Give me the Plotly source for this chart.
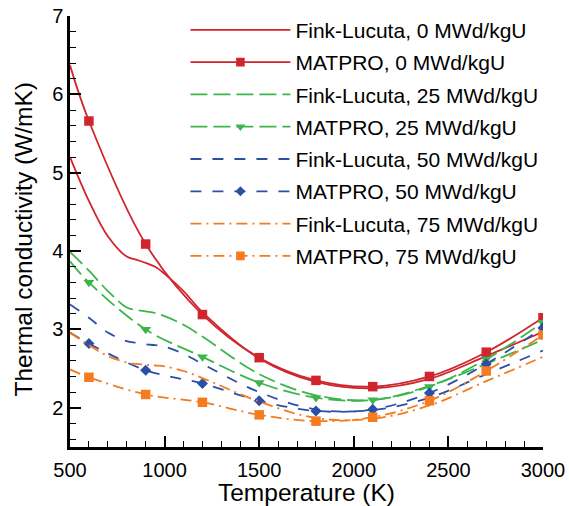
import plotly.graph_objects as go

# Temperatures (K)
T_fink = [500, 600, 700, 800, 850, 900, 950, 1000, 1100, 1200, 1500, 1800, 2100, 2400, 2700, 3000]
T_mat = [500, 600, 900, 1200, 1500, 1800, 2100, 2400, 2700, 3000]

# Fink-Lucuta thermal conductivity (W/mK)
fink_0 = [5.20, 4.64, 4.19, 3.93, 3.89, 3.85, 3.80, 3.71, 3.49, 3.22, 2.63, 2.33, 2.25, 2.37, 2.66, 2.97]
fink_25 = [3.99, 3.75, 3.49, 3.28, 3.25, 3.23, 3.21, 3.17, 3.06, 2.91, 2.43, 2.16, 2.10, 2.28, 2.56, 2.87]
fink_50 = [3.32, 3.15, 2.96, 2.85, 2.83, 2.81, 2.80, 2.78, 2.69, 2.56, 2.20, 1.98, 1.97, 2.13, 2.43, 2.73]
fink_75 = [2.96, 2.80, 2.66, 2.58, 2.56, 2.55, 2.54, 2.53, 2.47, 2.38, 2.08, 1.87, 1.86, 2.03, 2.34, 2.65]

# MATPRO thermal conductivity (W/mK)
mat_0 = [6.37, 5.66, 4.09, 3.19, 2.64, 2.35, 2.27, 2.40, 2.71, 3.15]
mat_25 = [3.87, 3.60, 3.00, 2.65, 2.32, 2.13, 2.10, 2.27, 2.62, 3.09]
mat_50 = [2.96, 2.82, 2.48, 2.31, 2.09, 1.96, 1.98, 2.19, 2.56, 3.02]
mat_75 = [2.49, 2.39, 2.17, 2.07, 1.91, 1.83, 1.88, 2.09, 2.47, 2.93]

RED = "#d0252d"
GREEN = "#3db54a"
BLUE = "#2b4fa6"
ORANGE = "#f47b20"

fig = go.Figure()

def fink(y, name, color, dash):
    fig.add_trace(go.Scatter(
        x=T_fink, y=y, name=name, mode="lines",
        line=dict(color=color, width=1.8, dash=dash, shape="spline", smoothing=1.0),
        legendgroup=name,
    ))

def mat(y, name, color, dash, symbol, size):
    sizes = [0] + [size] * (len(T_mat) - 1)
    fig.add_trace(go.Scatter(
        x=T_mat, y=y, name=name, mode="lines+markers",
        line=dict(color=color, width=1.8, dash=dash, shape="spline", smoothing=1.0),
        marker=dict(symbol=symbol, size=sizes, color=color, opacity=1, line=dict(width=0)),
        legendgroup=name,
    ))

fink(fink_0, "Fink-Lucuta, 0 MWd/kgU", RED, "solid")
mat(mat_0, "MATPRO, 0 MWd/kgU", RED, "solid", "square", 9.5)
fink(fink_25, "Fink-Lucuta, 25 MWd/kgU", GREEN, "17px,6px")
mat(mat_25, "MATPRO, 25 MWd/kgU", GREEN, "17px,6px", "triangle-down", 9.5)
fink(fink_50, "Fink-Lucuta, 50 MWd/kgU", BLUE, "11px,11px")
mat(mat_50, "MATPRO, 50 MWd/kgU", BLUE, "11px,11px", "diamond", 8.5)
fink(fink_75, "Fink-Lucuta, 75 MWd/kgU", ORANGE, "11px,5px,2px,5px")
mat(mat_75, "MATPRO, 75 MWd/kgU", ORANGE, "11px,5px,2px,5px", "square", 9.5)

FONT = "Liberation Sans, Arial, sans-serif"

fig.update_layout(
    width=569, height=506,
    margin=dict(l=70, r=26, t=16, b=59, autoexpand=False),
    paper_bgcolor="white", plot_bgcolor="white",
    font=dict(family=FONT, color="black", size=20),
    legend=dict(
        x=0.244, y=0.705, xanchor="left", yanchor="middle",
        bgcolor="rgba(0,0,0,0)", font=dict(size=21, family=FONT),
        itemwidth=100, tracegroupgap=2,
    ),
    xaxis=dict(
        range=[500, 3000], tickvals=[500, 1000, 1500, 2000, 2500, 3000],
        showline=True, linewidth=2.5, linecolor="black", mirror=False,
        ticks="inside", ticklen=11, tickwidth=1.5, tickcolor="black",
        minor=dict(ticks="inside", dtick=100, ticklen=6, tickwidth=1.2, tickcolor="black"),
        showgrid=False, zeroline=False, automargin=False,
        tickfont=dict(size=20), ticklabelstandoff=3,
        title=dict(text="Temperature (K)", font=dict(size=24.5), standoff=0),
    ),
    yaxis=dict(
        range=[1.5, 7], tickvals=[2, 3, 4, 5, 6, 7],
        showline=True, linewidth=2.5, linecolor="black", mirror=False,
        ticks="inside", ticklen=11, tickwidth=1.5, tickcolor="black",
        minor=dict(ticks="inside", dtick=0.2, tick0=1.6, ticklen=6, tickwidth=1.2, tickcolor="black"),
        showgrid=False, zeroline=False, automargin=False,
        tickfont=dict(size=20),
    ),
    annotations=[dict(
        text="Thermal conductivity (W/mK)", textangle=-90,
        xref="paper", yref="paper", x=0, y=0.5, xanchor="center", yanchor="middle",
        xshift=-47, yshift=-8, showarrow=False, font=dict(size=24.5, family=FONT),
    )],
)

fig.write_html(
    "out.html",
    config={"displayModeBar": False},
    post_script="document.body.style.margin='0px';document.body.style.overflow='hidden';",
)
